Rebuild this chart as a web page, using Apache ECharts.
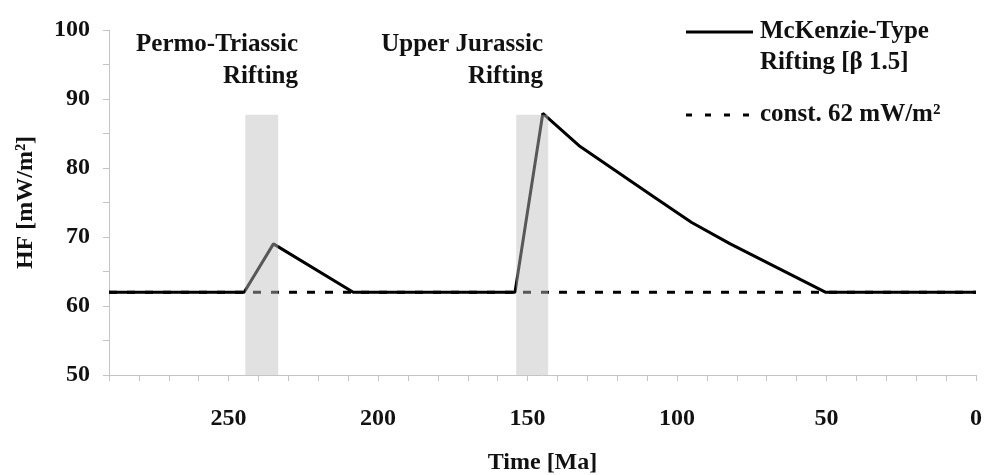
<!DOCTYPE html>
<html>
<head>
<meta charset="utf-8">
<script src="https://cdn.jsdelivr.net/npm/echarts@6/dist/echarts.min.js"></script>
<style>
html,body{margin:0;padding:0;background:#fff;}
#c{width:984px;height:475px;}
</style>
</head>
<body>
<div id="c"></div>
<script>
// Data (Time in Ma, HF in mW/m²)
var mckenzieTime = [290, 244.8, 235.0, 208.3, 154.2, 144.9, 132.4, 107.7, 95.1, 82.2, 50.4, 0];
var mckenzieHF   = [62,  62,    69.0,  62,    62,    87.9,  83.1,  75.8,  72.1, 69.0, 62,   62];
var constTime = [290, 0];
var constHF   = [62, 62];
var bandPermoTriassic = [244.4, 233.4];
var bandUpperJurassic = [153.8, 143.1];
var bandTop = 87.7;
var xTicksLabelled = [250, 200, 150, 100, 50, 0];
var yTicksLabelled = [50, 60, 70, 80, 90, 100];

function pairs(xs, ys){ return xs.map(function(x,i){ return [x, ys[i]]; }); }

var FONT = '"Liberation Serif", "Times New Roman", serif';
var chart = echarts.init(document.getElementById('c'), null, {renderer:'canvas'});
var option = {
  animation: false,
  backgroundColor: '#ffffff',
  grid: {left: 109, right: 8, top: 30, bottom: 100, containLabel: false, outerBoundsMode: 'none'},
  xAxis: {
    type: 'value', min: 0, max: 290, interval: 10, inverse: true,
    name: 'Time [Ma]', nameLocation: 'middle', nameGap: 76,
    nameTextStyle: {fontFamily: FONT, fontWeight: 'bold', fontSize: 24, color: '#111'},
    axisLine: {show: true, onZero: false, lineStyle: {color: '#c4c4c4', width: 1}},
    axisTick: {show: true, length: 6, lineStyle: {color: '#c4c4c4'}},
    splitLine: {show: false},
    axisLabel: {
      margin: 32, fontFamily: FONT, fontWeight: 'bold', fontSize: 24, color: '#111',
      showMinLabel: true, showMaxLabel: true, hideOverlap: false,
      formatter: function(v){ return xTicksLabelled.indexOf(v) >= 0 ? String(v) : ''; }
    }
  },
  yAxis: {
    type: 'value', min: 50, max: 100, interval: 5,
    name: 'HF [mW/m²]', nameLocation: 'middle', nameGap: 71, nameRotate: 90,
    nameTextStyle: {fontFamily: FONT, fontWeight: 'bold', fontSize: 24, color: '#111'},
    axisLine: {show: true, onZero: false, lineStyle: {color: '#c4c4c4', width: 1}},
    axisTick: {show: true, length: 6, lineStyle: {color: '#c4c4c4'}},
    splitLine: {show: false},
    axisLabel: {
      margin: 19, fontFamily: FONT, fontWeight: 'bold', fontSize: 24, color: '#111',
      formatter: function(v){ return yTicksLabelled.indexOf(v) >= 0 ? String(v) : ''; }
    }
  },
  series: [
    {
      name: 'const. 62 mW/m²', type: 'line', z: 2, symbol: 'none', silent: true,
      data: pairs(constTime, constHF),
      lineStyle: {color: '#000', width: 3, type: [8, 10]}
    },
    {
      name: 'McKenzie-Type Rifting [β 1.5]', type: 'line', z: 3, symbol: 'none', silent: true,
      data: pairs(mckenzieTime, mckenzieHF),
      lineStyle: {color: '#000', width: 3}
    },
    {
      name: 'Permo-Triassic band', type: 'line', z: 10, symbol: 'none', silent: true,
      data: [[bandPermoTriassic[0], bandTop], [bandPermoTriassic[1], bandTop]],
      lineStyle: {width: 0},
      areaStyle: {color: 'rgba(190,190,190,0.66)', origin: 'start'}
    },
    {
      name: 'Upper Jurassic band', type: 'line', z: 10, symbol: 'none', silent: true,
      data: [[bandUpperJurassic[0], bandTop], [bandUpperJurassic[1], bandTop]],
      lineStyle: {width: 0},
      areaStyle: {color: 'rgba(190,190,190,0.66)', origin: 'start'}
    }
  ],
  graphic: [
    {type: 'text', x: 298, y: 45, style: {text: 'Permo-Triassic', align: 'right', verticalAlign: 'middle', font: 'bold 25px ' + FONT, fill: '#111'}},
    {type: 'text', x: 298, y: 77, style: {text: 'Rifting', align: 'right', verticalAlign: 'middle', font: 'bold 25px ' + FONT, fill: '#111'}},
    {type: 'text', x: 543, y: 45, style: {text: 'Upper Jurassic', align: 'right', verticalAlign: 'middle', font: 'bold 25px ' + FONT, fill: '#111'}},
    {type: 'text', x: 543, y: 77, style: {text: 'Rifting', align: 'right', verticalAlign: 'middle', font: 'bold 25px ' + FONT, fill: '#111'}},
    {type: 'line', shape: {x1: 686, y1: 32, x2: 753, y2: 32}, style: {stroke: '#000', lineWidth: 3}},
    {type: 'text', x: 760, y: 32, style: {text: 'McKenzie-Type', align: 'left', verticalAlign: 'middle', font: 'bold 25px ' + FONT, fill: '#111'}},
    {type: 'text', x: 760, y: 63, style: {text: 'Rifting [β 1.5]', align: 'left', verticalAlign: 'middle', font: 'bold 25px ' + FONT, fill: '#111'}},
    {type: 'line', shape: {x1: 686, y1: 115, x2: 753, y2: 115}, style: {stroke: '#000', lineWidth: 3, lineDash: [6, 13]}},
    {type: 'text', x: 760, y: 115, style: {text: 'const. 62 mW/m²', align: 'left', verticalAlign: 'middle', font: 'bold 25px ' + FONT, fill: '#111'}}
  ]
};
chart.setOption(option);
</script>
</body>
</html>
